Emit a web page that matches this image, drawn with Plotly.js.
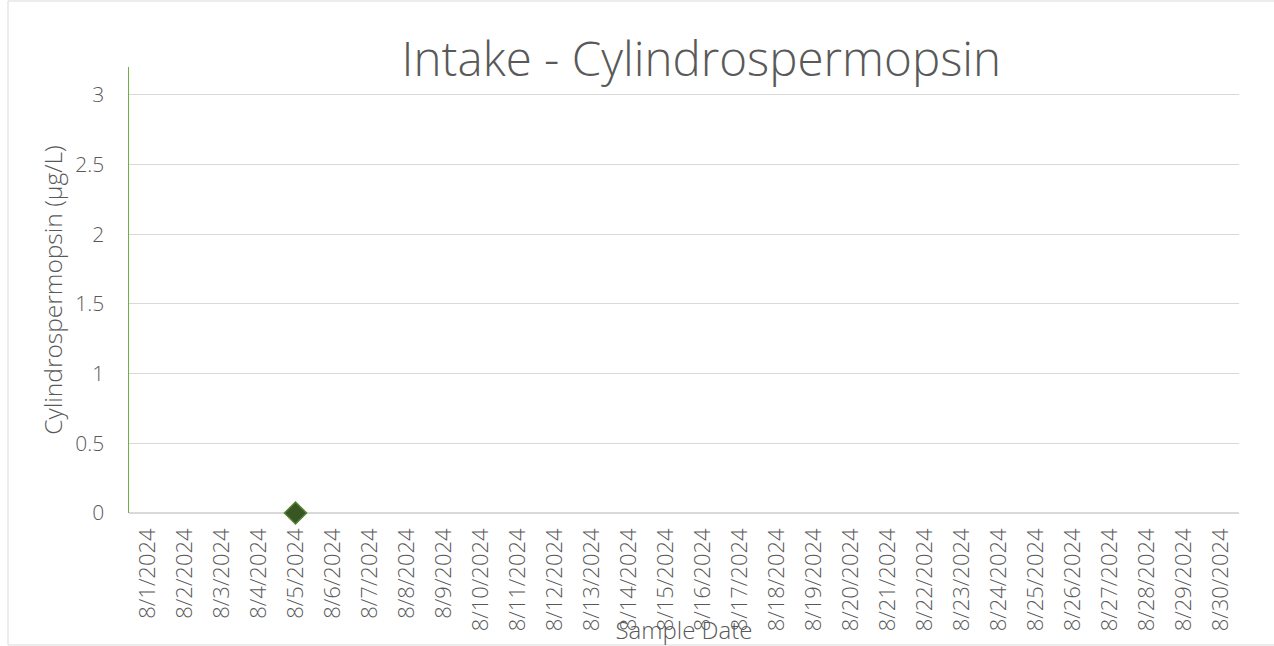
<!DOCTYPE html>
<html>
<head>
<meta charset="utf-8">
<script src="https://cdn.plot.ly/plotly-3.0.1.min.js"></script>
<style>
html,body{margin:0;padding:0;background:#fff;}
#chart{width:1274px;height:646px;}
</style>
</head>
<body>
<div id="chart"></div>
<script>
const sampleDates = ["8/1/2024","8/2/2024","8/3/2024","8/4/2024","8/5/2024","8/6/2024","8/7/2024","8/8/2024","8/9/2024","8/10/2024","8/11/2024","8/12/2024","8/13/2024","8/14/2024","8/15/2024","8/16/2024","8/17/2024","8/18/2024","8/19/2024","8/20/2024","8/21/2024","8/22/2024","8/23/2024","8/24/2024","8/25/2024","8/26/2024","8/27/2024","8/28/2024","8/29/2024","8/30/2024"];
const cylValues = [null,null,null,null,0,null,null,null,null,null,null,null,null,null,null,null,null,null,null,null,null,null,null,null,null,null,null,null,null,null];
const yTicks = [0,0.5,1,1.5,2,2.5,3];

const font = "Open Sans, Noto Sans, sans-serif";
const trace = {
  x: sampleDates, y: cylValues, type: "scatter", mode: "markers",
  marker: {symbol: "diamond", size: 17, color: "#375623", line: {color: "#548235", width: 1.5}},
  cliponaxis: false, showlegend: false, hoverinfo: "x+y"
};
const layout = {
  width: 1274, height: 646,
  margin: {l: 129, r: 35, t: 67, b: 133},
  paper_bgcolor: "#fff", plot_bgcolor: "#fff",
  font: {family: font, color: "#595959", size: 21},
  title: {text: "Intake - Cylindrospermopsin", font: {family: font, size: 47.5, color: "#595959", weight: 300}, x: 0.5505, xanchor: "center", y: 0.908, yanchor: "middle"},
  xaxis: {
    type: "category", categoryorder: "array", categoryarray: sampleDates,
    range: [-0.5, 29.5], tickangle: -90, showgrid: false, zeroline: false,
    showline: false, ticks: "", ticklabelstandoff: 10,
    tickfont: {family: font, size: 22, color: "#595959", weight: 300},
    title: {text: "Sample Date", font: {family: font, size: 24, color: "#595959", weight: 300}, standoff: 0},
    automargin: false
  },
  yaxis: {
    range: [0, 3.2], tickvals: yTicks, ticktext: yTicks.map(String),
    showgrid: true, gridcolor: "#d9d9d9", gridwidth: 1,
    zeroline: true, zerolinecolor: "#d9d9d9", zerolinewidth: 1.5,
    showline: true, linecolor: "#70ad47", linewidth: 1.5,
    ticks: "", ticklabelstandoff: 19,
    tickfont: {family: font, size: 21, color: "#595959", weight: 300},
    title: {text: "Cylindrospermopsin (µg/L)", font: {family: font, size: 24.5, color: "#595959", weight: 300}, standoff: 5},
    automargin: false
  },
  shapes: [{type: "rect", xref: "paper", yref: "paper", x0: -121/1110, x1: 1.06, y0: -132/446, y1: 1 + 66/446, line: {color: "#d9d9d9", width: 1}, fillcolor: "rgba(0,0,0,0)"}]
};
Plotly.newPlot("chart", [trace], layout, {displayModeBar: false, staticPlot: true});
</script>
</body>
</html>
